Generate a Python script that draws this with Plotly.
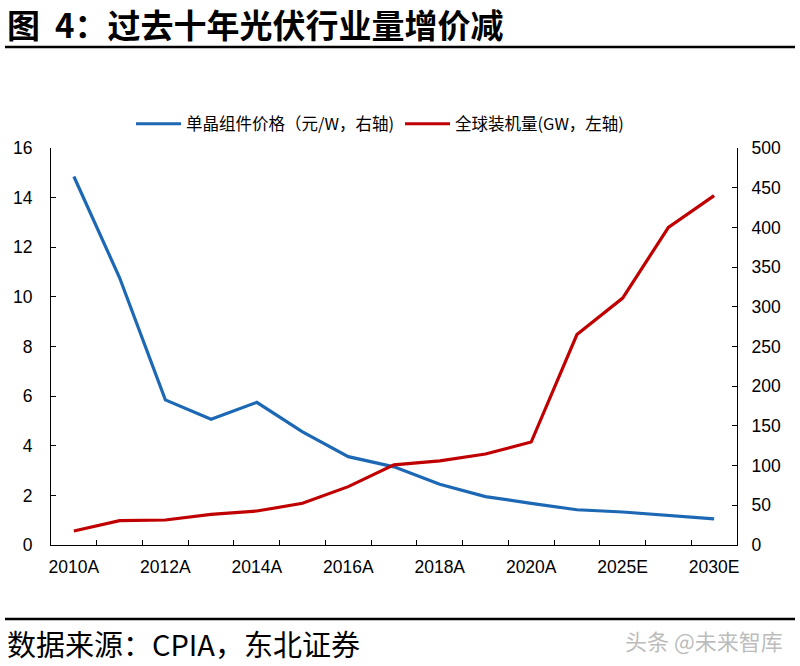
import plotly.graph_objects as go

categories = ["2010A", "2011A", "2012A", "2013A", "2014A", "2015A", "2016A", "2017A",
              "2018A", "2019A", "2020A", "2021E", "2025E", "2028E", "2030E"]
tick_labels = ["2010A", "", "2012A", "", "2014A", "", "2016A", "", "2018A", "",
               "2020A", "", "2025E", "", "2030E"]
module_price = [14.85, 10.77, 5.85, 5.07, 5.75, 4.56, 3.56, 3.15, 2.45, 1.95,
                1.68, 1.42, 1.33, 1.19, 1.05]
installed_gw = [17.6, 30.6, 31.5, 38.6, 42.8, 52.5, 73.5, 101, 106, 114.6,
                129.7, 265, 311, 400, 440]

name_price = "单晶组件价格（元/W，右轴)"
name_install = "全球装机量(GW，左轴)"

fig = go.Figure()
fig.add_trace(go.Scatter(x=categories, y=module_price, name=name_price, mode="lines",
                         line=dict(color="#1C68B4", width=3.2), yaxis="y"))
fig.add_trace(go.Scatter(x=categories, y=installed_gw, name=name_install, mode="lines",
                         line=dict(color="#C00000", width=3.2), yaxis="y2"))

axis_font = dict(family="Liberation Sans, Arial, sans-serif", size=17.5, color="#000000")

PL, PR, PT, PB = 51, 737, 148, 545
W = PR - PL
H = PB - PT


def px(x):
    return (x - PL) / W


def py(y):
    return (PB - y) / H


fig.update_layout(
    width=800, height=666,
    paper_bgcolor="white", plot_bgcolor="white",
    margin=dict(l=PL, r=800 - PR, t=PT, b=666 - PB, autoexpand=False),
    font=dict(family="Liberation Sans, Noto Sans CJK SC, sans-serif", color="#000"),
    showlegend=True,
    legend=dict(orientation="h", x=px(131), xanchor="left", y=py(124), yanchor="middle",
                font=dict(family="Noto Sans CJK SC, Liberation Sans, sans-serif", size=16.5, color="#000"),
                entrywidth=209, entrywidthmode="pixels", tracegroupgap=0, itemwidth=45,
                bgcolor="rgba(0,0,0,0)"),
    xaxis=dict(type="category", range=[-0.5, 14.5], tickmode="array", tickvals=categories,
               ticktext=tick_labels, ticks="inside", tickson="boundaries", ticklen=5,
               tickangle=0, automargin=False,
               tickcolor="#000", showline=True, linecolor="#000", linewidth=1,
               showgrid=False, tickfont=axis_font, zeroline=False, ticklabelstandoff=6),
    yaxis=dict(range=[0, 16], dtick=2, ticks="inside", ticklen=5, tickcolor="#000",
               showline=True, linecolor="#000", linewidth=1, showgrid=False, automargin=False,
               zeroline=False, tickfont=axis_font, ticklabelstandoff=14),
    yaxis2=dict(range=[0, 500], dtick=50, overlaying="y", side="right", ticks="inside",
                ticklen=5, tickcolor="#000", showline=True, linecolor="#000", linewidth=1,
                showgrid=False, zeroline=False, tickfont=axis_font, ticklabelstandoff=10,
                automargin=False),
)

# Title
fig.add_annotation(text="<b>图  4：过去十年光伏行业量增价减</b>", xref="paper", yref="paper",
                   x=px(6), y=py(24), xanchor="left", yanchor="middle",
                   showarrow=False, borderpad=0,
                   font=dict(family="Noto Sans CJK SC, sans-serif", size=33, color="#000"))
# Source
fig.add_annotation(text="数据来源：CPIA，东北证券", xref="paper", yref="paper",
                   x=px(5), y=py(643), xanchor="left", yanchor="middle",
                   showarrow=False,
                   font=dict(family="Noto Sans CJK SC, sans-serif", size=29, color="#000"))
# Watermark
fig.add_annotation(text="头条 @未来智库", xref="paper", yref="paper",
                   x=px(785), y=py(640), xanchor="right", yanchor="middle",
                   showarrow=False,
                   font=dict(family="Noto Sans CJK SC, sans-serif", size=22,
                             color="rgba(170,170,170,0.8)"))

# Rules under title and above source
fig.add_shape(type="line", xref="paper", yref="paper",
              x0=px(5), x1=px(795), y0=py(47), y1=py(47),
              line=dict(color="#000", width=2.5))
fig.add_shape(type="line", xref="paper", yref="paper",
              x0=px(5), x1=px(795), y0=py(619), y1=py(619),
              line=dict(color="#000", width=2.5))

fig.write_html("out.html", config={"displayModeBar": False},
               post_script="document.body.style.margin='0px';document.body.style.overflow='hidden';")
